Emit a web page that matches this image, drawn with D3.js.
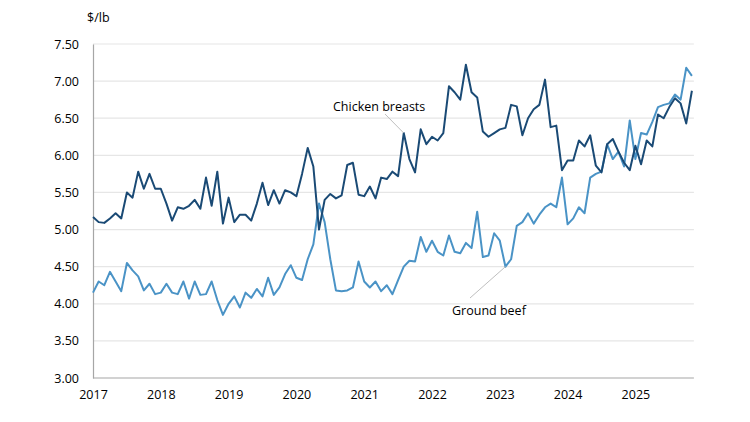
<!DOCTYPE html>
<html>
<head>
<meta charset="utf-8">
<script src="https://cdn.jsdelivr.net/npm/d3@7"></script>
<style>
  body { margin: 0; background: #fff; }
  text { font-family: "Open Sans", "Liberation Sans", sans-serif; }
</style>
</head>
<body>
<div class="chart"></div>
<script>
'use strict';

const years = [2017, 2018, 2019, 2020, 2021, 2022, 2023, 2024, 2025];
const yTicks = [3.0, 3.5, 4.0, 4.5, 5.0, 5.5, 6.0, 6.5, 7.0, 7.5];

// monthly, Jan 2017 .. Nov 2025
const chicken = [
  5.17, 5.10, 5.09, 5.15, 5.22, 5.15, 5.50, 5.43, 5.78, 5.55, 5.75, 5.55,
  5.55, 5.35, 5.12, 5.30, 5.28, 5.32, 5.40, 5.28, 5.70, 5.32, 5.78, 5.08,
  5.43, 5.10, 5.20, 5.20, 5.12, 5.35, 5.63, 5.33, 5.53, 5.35, 5.53, 5.50,
  5.45, 5.75, 6.10, 5.85, 5.00, 5.40, 5.48, 5.42, 5.46, 5.87, 5.90, 5.47,
  5.45, 5.58, 5.42, 5.70, 5.68, 5.78, 5.72, 6.30, 5.95, 5.77, 6.35, 6.15,
  6.25, 6.20, 6.30, 6.93, 6.85, 6.75, 7.22, 6.85, 6.78, 6.32, 6.25, 6.30,
  6.35, 6.37, 6.68, 6.66, 6.27, 6.50, 6.62, 6.68, 7.02, 6.38, 6.40, 5.80,
  5.93, 5.93, 6.20, 6.12, 6.27, 5.86, 5.77, 6.15, 6.22, 6.05, 5.90, 5.80,
  6.13, 5.88, 6.20, 6.12, 6.55, 6.50, 6.65, 6.77, 6.70, 6.43, 6.87
];
const beef = [
  4.15, 4.30, 4.25, 4.43, 4.30, 4.17, 4.55, 4.45, 4.37, 4.18, 4.27, 4.13,
  4.15, 4.27, 4.15, 4.13, 4.30, 4.07, 4.30, 4.12, 4.13, 4.30, 4.05, 3.85,
  4.00, 4.10, 3.95, 4.15, 4.08, 4.20, 4.10, 4.35, 4.12, 4.22, 4.40, 4.52,
  4.35, 4.32, 4.60, 4.80, 5.35, 5.10, 4.60, 4.18, 4.17, 4.18, 4.22, 4.57,
  4.30, 4.22, 4.30, 4.17, 4.25, 4.13, 4.32, 4.50, 4.58, 4.57, 4.90, 4.70,
  4.85, 4.70, 4.65, 4.92, 4.70, 4.68, 4.82, 4.75, 5.24, 4.63, 4.65, 4.95,
  4.85, 4.50, 4.60, 5.05, 5.10, 5.22, 5.08, 5.20, 5.30, 5.35, 5.30, 5.70,
  5.07, 5.15, 5.30, 5.22, 5.70, 5.75, 5.78, 6.15, 5.95, 6.05, 5.85, 6.47,
  5.95, 6.30, 6.28, 6.45, 6.65, 6.68, 6.70, 6.82, 6.75, 7.18, 7.07
];

const FULL_WIDTH = 750;
const FULL_HEIGHT = 422;
const margin = { top: 44, right: 53, bottom: 44, left: 93 };
const WIDTH = FULL_WIDTH - margin.left - margin.right;
const HEIGHT = FULL_HEIGHT - margin.top - margin.bottom;

const svg = d3.select('.chart')
  .append('svg')
    .attr('width', FULL_WIDTH)
    .attr('height', FULL_HEIGHT)
  .append('g')
    .attr('transform', 'translate(' + margin.left + ',' + margin.top + ')');

const x = d3.scaleLinear().domain([0, 107]).range([0, 5.65 * 107]);
const y = d3.scaleLinear().domain([3, 7.5]).range([HEIGHT, 0]);

// grid
svg.selectAll('.grid')
  .data(yTicks.slice(1))
  .enter()
  .append('line')
    .attr('x1', 0)
    .attr('x2', x(106) + 2)
    .attr('y1', (d) => y(d))
    .attr('y2', (d) => y(d))
    .attr('stroke', '#e6e6e6')
    .attr('stroke-width', 1.2);

const yAxis = svg.append('g')
  .call(d3.axisLeft(y).tickValues(yTicks).tickFormat(d3.format('.2f')).tickSize(0).tickPadding(14));
yAxis.select('.domain').attr('stroke', '#a6a6a6').attr('stroke-width', 1.2);
yAxis.selectAll('text').attr('font-size', '12.5px').attr('fill', '#000');

const xAxis = svg.append('g')
  .attr('transform', 'translate(0,' + HEIGHT + ')')
  .call(d3.axisBottom(x).tickValues(years.map((yr) => (yr - 2017) * 12))
    .tickFormat((d) => 2017 + d / 12).tickSize(0).tickPadding(12));
xAxis.select('.domain').remove();
xAxis.selectAll('text').attr('font-size', '12.5px').attr('fill', '#000');
svg.append('line')
  .attr('x1', 0).attr('x2', x(106) + 2)
  .attr('y1', HEIGHT).attr('y2', HEIGHT)
  .attr('stroke', '#a6a6a6').attr('stroke-width', 1.2);

svg.append('text')
  .attr('x', -6).attr('y', -22)
  .attr('font-size', '12.5px')
  .text('$/lb');

const line = d3.line().x((d, i) => x(i)).y((d) => y(d));

svg.append('path')
  .datum(beef)
  .attr('fill', 'none')
  .attr('stroke', '#4a93c6')
  .attr('stroke-width', 2)
  .attr('stroke-linejoin', 'round')
  .attr('d', line);

svg.append('path')
  .datum(chicken)
  .attr('fill', 'none')
  .attr('stroke', '#1a4a75')
  .attr('stroke-width', 2)
  .attr('stroke-linejoin', 'round')
  .attr('d', line);

// annotations
svg.append('line')
  .attr('x1', 385 - margin.left).attr('y1', 114 - margin.top)
  .attr('x2', x(55)).attr('y2', y(chicken[55]))
  .attr('stroke', '#bfbfbf');
svg.append('text')
  .attr('x', 333 - margin.left).attr('y', 111 - margin.top)
  .attr('font-size', '12.5px')
  .text('Chicken breasts');

svg.append('line')
  .attr('x1', 470 - margin.left).attr('y1', 298 - margin.top)
  .attr('x2', x(73)).attr('y2', y(beef[73]))
  .attr('stroke', '#bfbfbf');
svg.append('text')
  .attr('x', 452 - margin.left).attr('y', 315 - margin.top)
  .attr('font-size', '12.5px')
  .text('Ground beef');
</script>
</body>
</html>
